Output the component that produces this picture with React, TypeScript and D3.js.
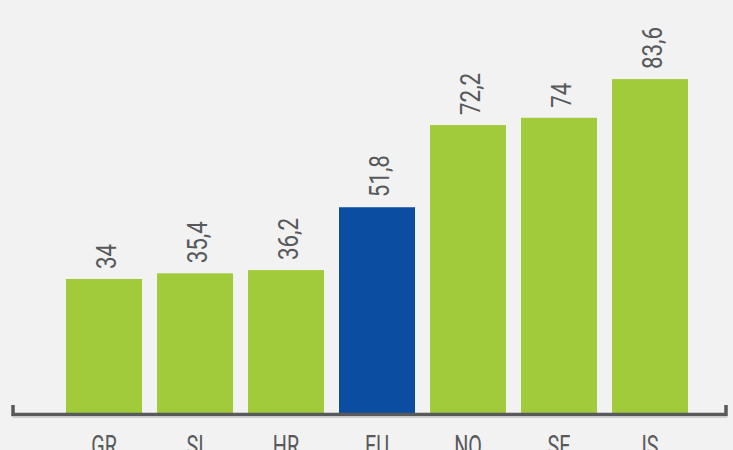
import React from "react";
import * as d3 from "d3";

const categories = ["GR", "SI", "HR", "EU", "NO", "SE", "IS"];
const values = [34, 35.4, 36.2, 51.8, 72.2, 74, 83.6];
const valueLabels = ["34", "35,4", "36,2", "51,8", "72,2", "74", "83,6"];
const highlight = ["EU"];

const W = 733;
const H = 450;
const GREEN = "#a1cb3a";
const BLUE = "#0b4da1";
const GREY = "#58595b";
const FONT = "Roboto, 'Noto Sans', sans-serif";

export default function App() {
  const x = d3
    .scaleBand<string>()
    .domain(categories)
    .range([58.5, 695.5])
    .paddingInner(15 / 91)
    .paddingOuter(15 / 91 / 2);
  const y = d3.scaleLinear().domain([0, 100]).range([416, 13]);

  return (
    <svg
      width={W}
      height={H}
      style={{ position: "absolute", left: 0, top: 0, display: "block", background: "#f2f2f2" }}
    >
      <rect x={0} y={0} width={W} height={H} fill="#f2f2f2" />
      {categories.map((c, i) => {
        const bx = x(c)!;
        const cx = bx + x.bandwidth() / 2;
        const top = y(values[i]);
        return (
          <g key={c}>
            <rect
              x={bx}
              y={top}
              width={x.bandwidth()}
              height={y(0) - top}
              fill={highlight.includes(c) ? BLUE : GREEN}
            />
            <text
              transform={`translate(${cx + 12},${top - 10}) rotate(-90) scale(0.8,1)`}
              fontFamily={FONT}
              fontSize={28}
              fill={GREY}
              textAnchor="start"
            >
              {valueLabels[i]}
            </text>
            <text
              transform={`translate(${cx},455.5) scale(0.66,1)`}
              fontFamily={FONT}
              fontSize={30}
              fill={GREY}
              textAnchor="middle"
            >
              {c}
            </text>
          </g>
        );
      })}
      <line x1={13} x2={727} y1={417.5} y2={417.5} stroke="#cfcfcf" strokeWidth={1} />
      <path
        d={`M13,405 V414.5 H726 V405`}
        fill="none"
        stroke={GREY}
        strokeWidth={3.5}
      />
    </svg>
  );
}
